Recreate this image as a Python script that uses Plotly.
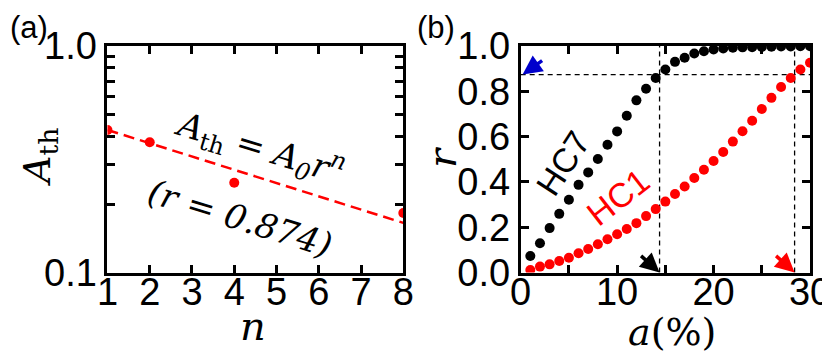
import plotly.graph_objects as go

# ---- data: panel (a)
n_vals = [1, 2, 4, 8]
A_th = [0.426, 0.376, 0.249, 0.183]
fit_n = [1, 8]
fit_A = [0.426, 0.1656]
r_fit = 0.874

# ---- data: panel (b)
a_pct = list(range(1, 31))
r_hc7 = [0.073, 0.129, 0.196, 0.259, 0.321, 0.387, 0.442, 0.501, 0.564, 0.623,
         0.692, 0.760, 0.811, 0.859, 0.896, 0.930, 0.948, 0.967, 0.977, 0.985,
         0.989, 0.992, 0.994, 0.995, 0.996, 0.997, 0.998, 0.998, 0.999, 0.999]
r_hc1 = [0.011, 0.026, 0.036, 0.051, 0.065, 0.085, 0.104, 0.125, 0.147, 0.169,
         0.192, 0.218, 0.249, 0.280, 0.313, 0.347, 0.380, 0.417, 0.454, 0.492,
         0.532, 0.578, 0.624, 0.670, 0.722, 0.771, 0.819, 0.859, 0.896, 0.926]
a_hc7_cut = 14.4
a_hc1_cut = 28.4

a_ticks = [0, 5, 10, 15, 20, 25, 30]
a_ticktext = ["0", "", "10", "", "20", "", "30"]
A_ticks = [0.1, 0.2, 0.3, 0.4, 0.5, 0.6, 0.7, 0.8, 0.9, 1.0]
A_ticktext = ["0.1", "", "", "", "", "", "", "", "", "1.0"]

RED = "#ff0000"
BLACK = "#000000"
BLUE = "#0000cc"
SANS = "Liberation Sans, Arial, sans-serif"
SERIF = "DejaVu Serif, serif"
TICK_FONT = dict(family=SANS, size=38, color=BLACK)

# page body keeps its default 8px margin, so the figure is 8px smaller
W, H = 822, 348

fig = go.Figure()

# (a)
fig.add_trace(go.Scatter(
    x=fit_n, y=fit_A, mode="lines", xaxis="x", yaxis="y",
    line=dict(color=RED, width=2.5, dash="11px,6px"),
))
fig.add_trace(go.Scatter(
    x=n_vals, y=A_th, mode="markers", xaxis="x", yaxis="y",
    marker=dict(color=RED, size=10),
))

# (b) guide lines
dash_line = dict(color=BLACK, width=1.3, dash="5px,4px")
fig.add_trace(go.Scatter(x=[0, 30], y=[r_fit, r_fit], mode="lines",
                         xaxis="x2", yaxis="y2", line=dash_line))
fig.add_trace(go.Scatter(x=[a_hc7_cut, a_hc7_cut], y=[0, 1], mode="lines",
                         xaxis="x2", yaxis="y2", line=dash_line))
fig.add_trace(go.Scatter(x=[a_hc1_cut, a_hc1_cut], y=[0, 1], mode="lines",
                         xaxis="x2", yaxis="y2", line=dash_line))

fig.add_trace(go.Scatter(
    x=a_pct, y=r_hc7, mode="markers", xaxis="x2", yaxis="y2",
    marker=dict(color=BLACK, size=10),
))
fig.add_trace(go.Scatter(
    x=a_pct, y=r_hc1, mode="markers", xaxis="x2", yaxis="y2",
    marker=dict(color=RED, size=10),
))

axis_common = dict(
    showline=True, linecolor=BLACK, linewidth=3, mirror="ticks",
    ticks="inside", ticklen=8, tickwidth=2.5, tickcolor=BLACK,
    showgrid=False, zeroline=False, tickfont=TICK_FONT, automargin=False,
    ticklabeloverflow="allow",
)

fig.update_layout(
    width=W, height=H,
    margin=dict(l=0, r=0, t=0, b=0, autoexpand=False),
    paper_bgcolor="white", plot_bgcolor="white",
    showlegend=False,
    xaxis=dict(domain=[0.1210, 0.4809], range=[1, 8], dtick=1,
               anchor="y", ticklabelstandoff=-16, **axis_common),
    yaxis=dict(domain=[0.2399, 0.8908], type="log", range=[-1, 0],
               tickvals=A_ticks, ticktext=A_ticktext, anchor="x",
               **axis_common),
    xaxis2=dict(domain=[0.6237, 0.9757], range=[0, 30],
                tickvals=a_ticks, ticktext=a_ticktext, anchor="y2",
                ticklabelstandoff=-16, **axis_common),
    yaxis2=dict(domain=[0.2399, 0.8908], range=[0, 1], dtick=0.2,
                tickformat=".1f", anchor="x2", **axis_common),
)


def label(text, x, y, size, family=SERIF, color=BLACK, angle=0, ref="paper"):
    return dict(text=text, x=x, y=y, xref=ref if ref == "paper" else ref[0],
                yref=ref if ref == "paper" else ref[1],
                xanchor="center", yanchor="middle", textangle=angle,
                showarrow=False, font=dict(family=family, size=size, color=color))


ann = []
# panel labels
ann.append(dict(text="(a)", x=0.0, y=1.0, xref="paper", yref="paper",
                xanchor="left", yanchor="top", showarrow=False,
                font=dict(family=SANS, size=31, color=BLACK)))
ann.append(dict(text="(b)", x=0.495, y=1.0, xref="paper", yref="paper",
                xanchor="left", yanchor="top", showarrow=False,
                font=dict(family=SANS, size=31, color=BLACK)))
# axis titles
ann.append(label("<i>A</i><sub>th</sub>", 0.039, 0.572, 38, angle=-90))
ann.append(label("<i>n</i>", 0.2975, 0.086, 40))
ann.append(label("<i>r</i>", 0.528, 0.572, 40, angle=-90))
ann.append(label("<i>a</i>(%)", 0.808, 0.07, 38))
# formula text
ann.append(label("<i>A</i><sub>th</sub> = <i>A</i><sub><i>0</i></sub><i>r</i><sup><i>n</i></sup>",
                 4.61, -0.446, 34, angle=17, ref=("x", "y")))
ann.append(label("<i>(r</i> = <i>%.3f)</i>" % r_fit,
                 4.135, -0.76, 34, angle=17, ref=("x", "y")))
# series labels
ann.append(label("HC7", 4.4, 0.483, 34, family=SANS, angle=-57, ref=("x2", "y2")))
ann.append(label("HC1", 10.1, 0.333, 34, family=SANS, color=RED, angle=-38,
                 ref=("x2", "y2")))
# arrows
arrow_common = dict(xref="x2", yref="y2", text="", showarrow=True,
                    arrowhead=2, arrowsize=1.1, arrowwidth=3.5, standoff=0)
ann.append(dict(x=0.2, y=r_fit, ax=21, ay=-15, arrowcolor=BLUE, **arrow_common))
ann.append(dict(x=a_hc7_cut, y=0, ax=-20, ay=-18, arrowcolor=BLACK, **arrow_common))
ann.append(dict(x=a_hc1_cut, y=0, ax=-20, ay=-18, arrowcolor=RED, **arrow_common))

fig.update_layout(annotations=ann)

fig.write_html("out.html")
